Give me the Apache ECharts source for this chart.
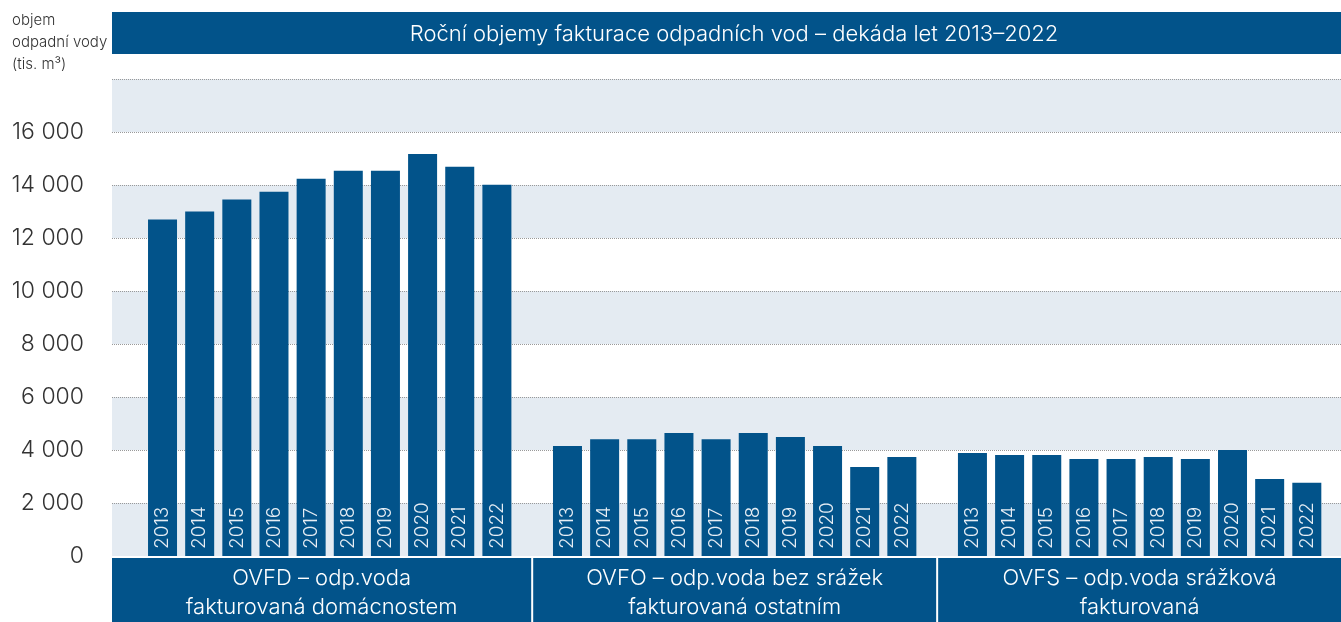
<!DOCTYPE html>
<html>
<head>
<meta charset="utf-8">
<script src="https://cdn.jsdelivr.net/npm/echarts@6/dist/echarts.min.js"></script>
<style>
  html, body { margin: 0; padding: 0; background: #fff; }
  #main { width: 1341px; height: 622px; }
</style>
</head>
<body>
<div id="main"></div>
<script>
var years = ['2013', '2014', '2015', '2016', '2017', '2018', '2019', '2020', '2021', '2022'];
var groups = ['OVFD – odp.voda\nfakturovaná domácnostem', 'OVFO – odp.voda bez srážek\nfakturovaná ostatním', 'OVFS – odp.voda srážková\nfakturovaná'];
var ovfd = [12700, 13000, 13450, 13750, 14240, 14540, 14540, 15170, 14690, 14010];
var ovfo = [4150, 4410, 4410, 4640, 4410, 4640, 4490, 4150, 3360, 3740];
var ovfs = [3890, 3810, 3810, 3660, 3660, 3740, 3660, 4000, 2910, 2760];
var yTicks = [0, 2000, 4000, 6000, 8000, 10000, 12000, 14000, 16000];

var blue = '#02538a';
var font = 'Inter, "Open Sans", sans-serif';
var gap = 1.9;            // odstup mezi skupinami (v jednotkach sloupcu)
var stride = 9 + gap;
var xMin = -1.36, xMax = 31.72;

var myChart = echarts.init(document.getElementById('main'));

var barData = [];
[ovfd, ovfo, ovfs].forEach(function (vals, g) {
    vals.forEach(function (v, i) {
        barData.push({ name: years[i], value: [g * stride + i, v] });
    });
});

// hranice skupin pro spodni pruhy
var bands = groups.map(function (name, g) {
    var from = g === 0 ? xMin : g * stride - gap / 2;
    var to = g === groups.length - 1 ? xMax : g * stride + 9 + gap / 2;
    return { name: name, value: [from, to] };
});

var option = {
    animation: false,
    title: {
        text: 'objem\nodpadní vody\n(tis. m³)',
        left: 7, top: 4,
        textStyle: { fontFamily: font, fontWeight: 300, fontSize: 15, lineHeight: 22, color: '#333' }
    },
    graphic: [{
        type: 'rect',
        shape: { x: 112, y: 12, width: 1229, height: 42 },
        style: { fill: blue }
    }, {
        type: 'text',
        x: 734, y: 34,
        style: {
            text: 'Roční objemy fakturace odpadních vod – dekáda let 2013–2022',
            fill: '#fff', font: '300 22px ' + font, textAlign: 'center', textVerticalAlign: 'middle'
        }
    }],
    grid: [
        { left: 112, right: 0, top: 79, height: 477 },
        { left: 112, right: 0, top: 558, height: 64 }
    ],
    xAxis: [
        { type: 'value', gridIndex: 0, min: xMin, max: xMax, show: false },
        { type: 'value', gridIndex: 1, min: xMin, max: xMax, show: false }
    ],
    yAxis: [{
        type: 'value', gridIndex: 0, min: 0, max: 18000, interval: 2000,
        axisLine: { show: false }, axisTick: { show: false },
        axisLabel: {
            margin: 28, fontSize: 23, fontFamily: font, fontWeight: 300, color: '#333',
            formatter: function (v) {
                if (yTicks.indexOf(v) < 0) return '';
                return String(v).replace(/\B(?=(\d{3})+(?!\d))/g, ' ');
            }
        },
        splitLine: { show: true, showMinLine: false, lineStyle: { type: 'dotted', color: '#999', width: 1 } },
        splitArea: { show: true, areaStyle: { color: ['#e4ebf2', '#ffffff'] } }
    }, {
        type: 'value', gridIndex: 1, min: 0, max: 1, show: false
    }],
    series: [{
        type: 'bar',
        xAxisIndex: 0, yAxisIndex: 0,
        barWidth: 29,
        itemStyle: { color: blue },
        label: {
            show: true, position: 'insideBottom', rotate: 90, align: 'left', verticalAlign: 'middle',
            distance: 7, formatter: '{b}', color: '#e6edf4', fontSize: 19, fontFamily: font, fontWeight: 300
        },
        data: barData
    }, {
        type: 'custom',
        xAxisIndex: 1, yAxisIndex: 1,
        renderItem: function (params, api) {
            var g = params.dataIndex;
            var p0 = api.coord([api.value(0), 1]);
            var p1 = api.coord([api.value(1), 0]);
            var x0 = p0[0] + (g > 0 ? 1 : 0);
            var x1 = p1[0] - (g < groups.length - 1 ? 1 : 0);
            return {
                type: 'group',
                children: [{
                    type: 'rect',
                    shape: { x: x0, y: p0[1], width: x1 - x0, height: p1[1] - p0[1] },
                    style: { fill: blue }
                }, {
                    type: 'text',
                    x: (x0 + x1) / 2, y: (p0[1] + p1[1]) / 2 + 3,
                    style: {
                        text: groups[g], fill: '#fff', textAlign: 'center', textVerticalAlign: 'middle',
                        font: '300 22px ' + font, lineHeight: 29
                    }
                }]
            };
        },
        data: bands
    }]
};

myChart.setOption(option);
</script>
</body>
</html>
